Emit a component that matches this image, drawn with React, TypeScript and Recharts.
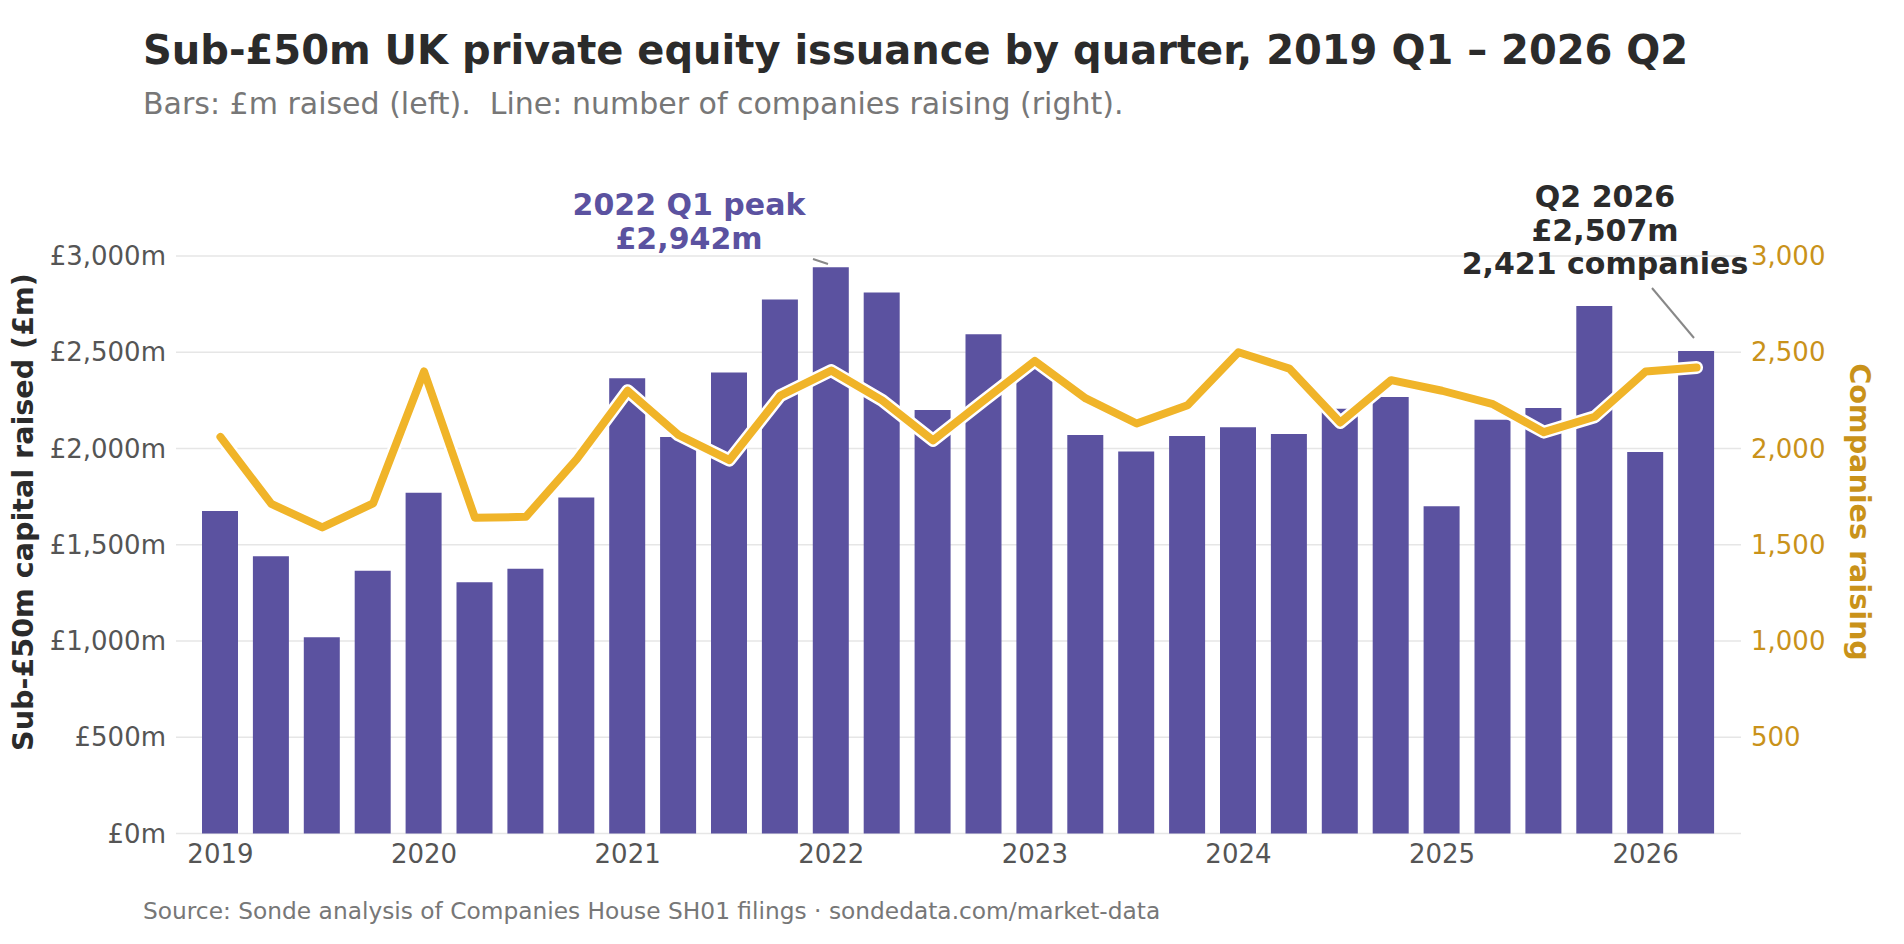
import React from 'react';
import { ComposedChart, Bar, Line, XAxis, YAxis, CartesianGrid } from 'recharts';

const quarters = [
  '2019 Q1', '2019 Q2', '2019 Q3', '2019 Q4',
  '2020 Q1', '2020 Q2', '2020 Q3', '2020 Q4',
  '2021 Q1', '2021 Q2', '2021 Q3', '2021 Q4',
  '2022 Q1', '2022 Q2', '2022 Q3', '2022 Q4',
  '2023 Q1', '2023 Q2', '2023 Q3', '2023 Q4',
  '2024 Q1', '2024 Q2', '2024 Q3', '2024 Q4',
  '2025 Q1', '2025 Q2', '2025 Q3', '2025 Q4',
  '2026 Q1', '2026 Q2',
];

const raisedGBPm = [
  1675, 1440, 1020, 1365,
  1770, 1305, 1375, 1745,
  2365, 2060, 2395, 2774,
  2942, 2810, 2200, 2593,
  2420, 2070, 1985, 2065,
  2110, 2075, 2207, 2267,
  1700, 2150, 2210, 2740,
  1982, 2507,
];

const companiesRaising = [
  2060, 1712, 1590, 1715,
  2400, 1640, 1645, 1945,
  2300, 2070, 1940, 2275,
  2405, 2250, 2042, 2250,
  2455, 2260, 2130, 2225,
  2500, 2415, 2135, 2355,
  2300, 2230, 2085, 2165,
  2400, 2421,
];

const leftTicks = [0, 500, 1000, 1500, 2000, 2500, 3000];
const rightTicks = [500, 1000, 1500, 2000, 2500, 3000];

const data = quarters.map((q, i) => ({
  quarter: q,
  raised: raisedGBPm[i],
  companies: companiesRaising[i],
}));

const FONT = "'DejaVu Sans', sans-serif";
const PURPLE = '#5B52A0';
const GOLD = '#F0B429';
const GOLD_TEXT = '#C9921A';
const DARK = '#2B2B2B';

const fmtNum = (v: number) => v.toLocaleString('en-GB');

const YearTick = (props: any) => {
  const { x, y, payload } = props;
  const label = String(payload?.value ?? '');
  if (!label.endsWith('Q1')) return null;
  return (
    <text
      x={x}
      y={y}
      dy="0.71em"
      textAnchor="middle"
      fill="#555555"
      fontSize={26}
      fontFamily={FONT}
    >
      {label.slice(0, 4)}
    </text>
  );
};

export default function App() {
  return (
    <div
      style={{
        position: 'absolute',
        left: 0,
        top: 0,
        width: 1904,
        height: 944,
        background: '#fff',
        overflow: 'hidden',
        fontFamily: FONT,
      }}
    >
      <ComposedChart
        width={1904}
        height={944}
        data={data}
        margin={{ top: 256, right: 0, bottom: 80.5, left: 0 }}
      >
        <CartesianGrid
          yAxisId="left"
          vertical={false}
          stroke="#E6E6E6"
          strokeWidth={1.6}
        />
        <XAxis
          dataKey="quarter"
          height={30}
          padding={{ left: 19, right: 19 }}
          interval={0}
          axisLine={false}
          tickLine={false}
          tickSize={0}
          tickMargin={11}
          tick={<YearTick />}
        />
        <YAxis
          yAxisId="left"
          orientation="left"
          width={176}
          domain={[0, 3000]}
          ticks={leftTicks}
          axisLine={false}
          tickLine={false}
          tickSize={0}
          tickMargin={10}
          tickFormatter={(v: number) => `£${fmtNum(v)}m`}
          tick={{ fill: '#555555', fontSize: 26, fontFamily: FONT }}
        />
        <YAxis
          yAxisId="right"
          orientation="right"
          width={163}
          domain={[0, 3000]}
          ticks={rightTicks}
          axisLine={false}
          tickLine={false}
          tickSize={0}
          tickMargin={10}
          tickFormatter={(v: number) => fmtNum(v)}
          tick={{ fill: GOLD_TEXT, fontSize: 26, fontFamily: FONT }}
        />
        <Bar
          yAxisId="left"
          dataKey="raised"
          fill={PURPLE}
          barSize={36}
          isAnimationActive={false}
        />
        <Line
          yAxisId="right"
          dataKey="companies"
          type="linear"
          stroke="#ffffff"
          strokeWidth={13}
          strokeLinecap="round"
          strokeLinejoin="round"
          dot={false}
          activeDot={false}
          isAnimationActive={false}
        />
        <Line
          yAxisId="right"
          dataKey="companies"
          type="linear"
          stroke={GOLD}
          strokeWidth={8}
          strokeLinecap="round"
          strokeLinejoin="round"
          dot={false}
          activeDot={false}
          isAnimationActive={false}
        />
      </ComposedChart>

      <svg
        width={1904}
        height={944}
        style={{ position: 'absolute', left: 0, top: 0, pointerEvents: 'none' }}
        fontFamily={FONT}
      >
        <text x={143} y={64} fontSize={40} fontWeight="bold" fill={DARK}>
          Sub-£50m UK private equity issuance by quarter, 2019 Q1 – 2026 Q2
        </text>
        <text x={143} y={114} fontSize={30} fill="#777777" style={{ whiteSpace: 'pre' }}>
          {'Bars: £m raised (left).  Line: number of companies raising (right).'}
        </text>

        <text
          transform="translate(33,512) rotate(-90)"
          textAnchor="middle"
          fontSize={28.6}
          fontWeight="bold"
          fill={DARK}
        >
          Sub-£50m capital raised (£m)
        </text>
        <text
          transform="translate(1850,512) rotate(90)"
          textAnchor="middle"
          fontSize={28.6}
          fontWeight="bold"
          fill={GOLD_TEXT}
        >
          Companies raising
        </text>

        <line x1={813} y1={259} x2={828} y2={264} stroke="#888888" strokeWidth={2} />
        <text x={689} y={215} textAnchor="middle" fontSize={30} fontWeight="bold" fill={PURPLE}>
          2022 Q1 peak
        </text>
        <text x={689} y={249} textAnchor="middle" fontSize={30} fontWeight="bold" fill={PURPLE}>
          £2,942m
        </text>

        <line x1={1652} y1={288} x2={1694} y2={338} stroke="#888888" strokeWidth={2} />
        <text x={1605} y={207} textAnchor="middle" fontSize={30} fontWeight="bold" fill={DARK}>
          Q2 2026
        </text>
        <text x={1605} y={241} textAnchor="middle" fontSize={30} fontWeight="bold" fill={DARK}>
          £2,507m
        </text>
        <text x={1605} y={274} textAnchor="middle" fontSize={30} fontWeight="bold" fill={DARK}>
          2,421 companies
        </text>

        <text x={143} y={919} fontSize={23.3} fill="#777777">
          Source: Sonde analysis of Companies House SH01 filings · sondedata.com/market-data
        </text>
      </svg>
    </div>
  );
}
